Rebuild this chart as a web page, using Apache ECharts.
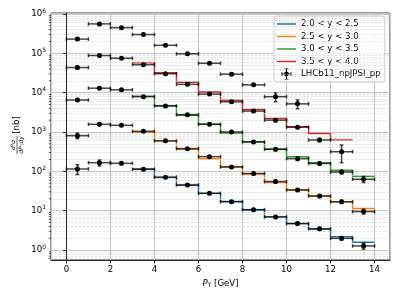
<!DOCTYPE html>
<html><head><meta charset="utf-8">
<script src="https://cdn.jsdelivr.net/npm/echarts@6/dist/echarts.min.js"></script>
<style>html,body{margin:0;padding:0;background:#fff}#c{width:399px;height:299px}</style>
</head><body><div id="c"></div>
<script>
// ---------------- data ----------------
const ptCenters = [0.5, 1.5, 2.5, 3.5, 4.5, 5.5, 6.5, 7.5, 8.5, 9.5, 10.5, 11.5, 12.5, 13.5];
const theoryEdges = [3, 4, 5, 6, 7, 8, 9, 10, 11, 12, 13, 14];
const minorMultipliers = [2, 3, 4, 5, 6, 7, 8, 9];
const theoryLabels = ['2.0 < y < 2.5', '2.5 < y < 3.0', '3.0 < y < 3.5', '3.5 < y < 4.0'];
const theoryColors = ['#1f77b4', '#ff7f0e', '#2ca02c', '#d62728'];
const dataLabel = 'LHCb11_npJPSI_pp';

// theory step values per pT bin starting at 3 GeV
const theory_20_25 = [115, 70, 44, 27.6, 17.1, 10.6, 6.95, 4.7, 3.4, 2.16, 1.58];
const theory_25_30 = [984, 595, 365, 210, 131, 86, 52, 34, 24, 16.9, 11.4];
const theory_30_35 = [8100, 4650, 2680, 1570, 944, 567, 370, 236, 165, 106, 75];
const theory_35_40 = [58000, 32300, 18400, 10400, 6400, 3750, 2200, 1350, 920, 626];

// LHCb data rows (values and symmetric errors), bins from pT = 0.5
const dataRow1 = [230000, 560000, 450000, 300000, 160000, 97000, 56000, 29500, 15800, 7900, 5200];
const errRow1  = [15000, 30000, 20000, 15000, 8000, 5000, 3000, 1800, 1000, 2000, 1300];
const dataRow2 = [43500, 88000, 75000, 51500, 30400, 16300, 9200, 5850, 3400, 2000, 1330, 626, 316];
const errRow2  = [3000, 5000, 4000, 3000, 1500, 900, 500, 350, 220, 160, 100, 60, 150];
const dataRow3 = [6500, 13000, 11800, 7900, 4600, 2750, 1570, 1000, 557, 363, 210, 158, 96, 63];
const errRow3  = [500, 800, 600, 400, 250, 150, 100, 70, 40, 30, 20, 15, 10, 11];
const dataRow4 = [807, 1570, 1480, 1040, 595, 377, 236, 129, 88, 55, 33.5, 23.5, 16.8, 9.5];
const errRow4  = [130, 100, 80, 50, 30, 20, 14, 9, 6, 4, 2.5, 2, 1.5, 1.3];
const dataRow5 = [115, 166, 160, 113, 71, 45, 27.6, 16.9, 10.6, 6.95, 4.7, 3.45, 1.98, 1.27];
const errRow5  = [32, 28, 12, 7, 4, 3, 1.7, 1.1, 0.7, 0.5, 0.35, 0.3, 0.2, 0.22];

// ---------------- chart ----------------
const X_MIN = -0.7, X_MAX = 14.7, Y_MIN = 0.557, Y_MAX = 1.06e6;
const FONT = 'DejaVu Sans';

function stepData(vals) {
  const d = vals.map((v, i) => [theoryEdges[i], v]);
  d.push([theoryEdges[vals.length], vals[vals.length - 1]]);
  return d;
}

const minorVals = [];
for (let d = -1; d <= 5; d++) {
  for (const m of minorMultipliers) {
    const v = m * Math.pow(10, d);
    if (v > Y_MIN && v < Y_MAX) minorVals.push(v);
  }
}

const dataRows = [dataRow1, dataRow2, dataRow3, dataRow4, dataRow5];
const errRows = [errRow1, errRow2, errRow3, errRow4, errRow5];
const ebData = [];
dataRows.forEach((row, r) => row.forEach((v, i) => ebData.push([ptCenters[i], v, errRows[r][i]])));

const theorySets = [theory_20_25, theory_25_30, theory_30_35, theory_35_40];

const ebIcon = 'path://M0,0M19,11M4.5,5H14.5V6H4.5ZM4.5,3.5H5.3V7.5H4.5ZM13.7,3.5H14.5V7.5H13.7ZM9,0H10V11H9ZM7.5,0H11.5V0.8H7.5ZM7.5,10.2H11.5V11H7.5ZM11.9,5.5A2.4,2.4,0,1,1,7.1,5.5A2.4,2.4,0,1,1,11.9,5.5Z';
const lineIcon = 'path://M0,0M19,11M0,4.75H19V6.25H0Z';

const series = [];
series.push({
  type: 'scatter', name: 'minor', z: 1, clip: false, silent: true,
  data: minorVals.map(v => [X_MIN, v]),
  symbol: 'rect', symbolSize: [2.2, 0.8], symbolOffset: [-1.1, 0],
  itemStyle: { color: '#000' },
  markLine: {
    silent: true, symbol: ['none', 'none'], label: { show: false },
    lineStyle: { type: [2.5, 1.5], color: '#d6d6d6', width: 0.7 },
    emphasis: { disabled: true },
    data: minorVals.map(v => ({ yAxis: v }))
  }
});
theorySets.forEach((vals, k) => {
  series.push({
    type: 'line', name: theoryLabels[k], step: 'end', symbol: 'none', z: 3,
    data: stepData(vals),
    lineStyle: { color: theoryColors[k], width: 1.5 },
    itemStyle: { color: theoryColors[k] }
  });
});
series.push({
  type: 'custom', name: dataLabel, z: 5,
  data: ebData,
  encode: { x: 0, y: 1 },
  itemStyle: { color: '#000' },
  renderItem: function (params, api) {
    const x = api.value(0), y = api.value(1), e = api.value(2);
    const c = api.coord([x, y]);
    const l = api.coord([x - 0.5, y]);
    const r = api.coord([x + 0.5, y]);
    const t = api.coord([x, y + e]);
    const b = api.coord([x, Math.max(y - e, Y_MIN)]);
    const st = { stroke: 'rgba(0,0,0,0.72)', lineWidth: 1.5 };
    const cap = 1.8;
    const ln = (x1, y1, x2, y2) => ({ type: 'line', shape: { x1, y1, x2, y2 }, style: st });
    return {
      type: 'group',
      children: [
        ln(l[0], l[1], r[0], r[1]),
        ln(l[0], l[1] - cap, l[0], l[1] + cap),
        ln(r[0], r[1] - cap, r[0], r[1] + cap),
        ln(t[0], t[1], b[0], b[1]),
        ln(t[0] - cap, t[1], t[0] + cap, t[1]),
        ln(b[0] - cap, b[1], b[0] + cap, b[1]),
        { type: 'circle', shape: { cx: c[0], cy: c[1], r: 2.5 }, style: { fill: '#000' } }
      ]
    };
  }
});

const option = {
  animation: false,
  textStyle: { fontFamily: FONT },
  grid: { left: 51, right: 9, top: 13, bottom: 39, show: true, borderColor: '#000', borderWidth: 0.8, backgroundColor: 'transparent' },
  xAxis: {
    type: 'value', min: X_MIN, max: X_MAX, splitNumber: 7,
    name: '{i|P}{s|T} [GeV]', nameLocation: 'middle', nameGap: 16,
    nameTextStyle: { fontSize: 8.6, color: '#000', fontFamily: FONT,
      rich: { i: { fontStyle: 'italic', fontSize: 8.6, color: '#000', fontFamily: FONT },
              s: { fontSize: 6, color: '#000', padding: [5, 0, 0, 0], fontFamily: FONT } } },
    axisLine: { onZero: false, lineStyle: { color: '#000', width: 0.8 } },
    axisTick: { length: 3.5, lineStyle: { color: '#000', width: 0.8 } },
    axisLabel: { fontSize: 8.6, color: '#000', margin: 5, showMinLabel: false, showMaxLabel: false },
    splitLine: { show: true, lineStyle: { color: '#c4c4c4', width: 1 } }
  },
  yAxis: {
    type: 'log', logBase: 10, min: Y_MIN, max: Y_MAX,
    axisLine: { lineStyle: { color: '#000', width: 0.8 } },
    axisTick: { length: 3.5, lineStyle: { color: '#000', width: 0.8 } },
    axisLabel: {
      fontSize: 8.6, color: '#000', margin: 5, showMinLabel: false, showMaxLabel: false,
      formatter: v => '10{sup|' + Math.round(Math.log10(v)) + '}',
      rich: { sup: { fontSize: 6, color: '#000', padding: [0, 0, 6, 0], fontFamily: FONT } }
    },
    splitLine: { show: true, lineStyle: { color: '#c4c4c4', width: 1 } }
  },
  legend: {
    data: theoryLabels.map(n => ({ name: n, icon: lineIcon })).concat([{ name: dataLabel, icon: ebIcon }]),
    orient: 'vertical', left: 274, top: 16,
    itemWidth: 19, itemHeight: 11, itemGap: 1.5,
    padding: [2.5, 4, 2.5, 3],
    backgroundColor: 'rgba(255,255,255,0.8)', borderColor: '#cccccc', borderWidth: 1, borderRadius: 3,
    textStyle: { fontSize: 8.6, color: '#000', fontFamily: FONT }
  },
  graphic: [{
    type: 'group', x: 17, y: 136, rotation: Math.PI / 2,
    children: [
      { type: 'text', x: 11, y: 0, style: { text: '[nb]', fontSize: 8.6, fontFamily: FONT, fill: '#000', align: 'center', verticalAlign: 'middle' } },
      { type: 'text', x: -9, y: -0.8, style: { text: 'd²σ', fontSize: 6, fontStyle: 'italic', fontFamily: FONT, fill: '#000', align: 'center', verticalAlign: 'bottom' } },
      { type: 'line', shape: { x1: -18, y1: 0, x2: 0, y2: 0 }, style: { stroke: '#000', lineWidth: 0.6 } },
      { type: 'text', x: -9, y: 0.8, style: { text: '{a|dP}{b|T}{a|dy}', align: 'center', verticalAlign: 'top', fill: '#000',
          rich: { a: { fontSize: 6, fontStyle: 'italic', fontFamily: FONT, fill: '#000' }, b: { fontSize: 4.5, fontFamily: FONT, fill: '#000', padding: [3, 0, 0, 0] } } } }
    ]
  }],
  series: series
};

const chart = echarts.init(document.getElementById('c'), null, { renderer: 'canvas' });
chart.setOption(option);
</script>
</body></html>
